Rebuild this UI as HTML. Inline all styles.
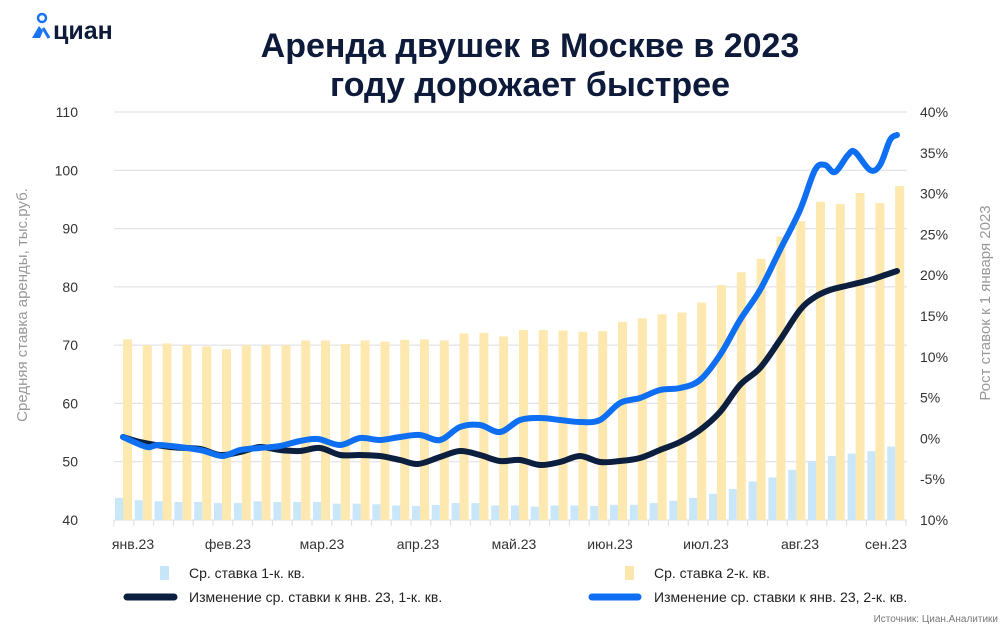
<!DOCTYPE html>
<html><head><meta charset="utf-8"><style>
body{margin:0;background:#fff;width:1000px;height:630px;overflow:hidden;font-family:"Liberation Sans",sans-serif;}
</style></head><body>
<svg id="s" width="1000" height="630" xmlns="http://www.w3.org/2000/svg" font-family="Liberation Sans, sans-serif">
<g>
<circle cx="42" cy="18" r="4" fill="none" stroke="#1a73f0" stroke-width="2.5"/>
<path d="M32 38 L39 26 L43 31 L40 38 Z" fill="#1a73f0"/>
<path d="M43 28 L49 38" stroke="#1a73f0" stroke-width="3"/>
<text x="53" y="39" font-size="25" font-weight="bold" fill="#0d1a3a">циан</text>
</g>
<text x="530" y="57" text-anchor="middle" font-size="34" font-weight="bold" fill="#0d1a3a">Аренда двушек в Москве в 2023</text>
<text x="530" y="96" text-anchor="middle" font-size="34" font-weight="bold" fill="#0d1a3a">году дорожает быстрее</text>
<g id="grid" stroke="#dcdce2" stroke-width="1"></g>
<g id="bars"></g>
<g id="lab" font-size="14" fill="#333"></g>
<text transform="translate(27,305) rotate(-90)" text-anchor="middle" font-size="15" fill="#999">Средняя ставка аренды, тыс.руб.</text>
<text transform="translate(990,303) rotate(-90)" text-anchor="middle" font-size="15" fill="#999">Рост ставок к 1 января 2023</text>
<path id="l1" fill="none" stroke="#0d1f3f" stroke-width="6" stroke-linecap="round" stroke-linejoin="round"/>
<path id="l2" fill="none" stroke="#0f6ff2" stroke-width="6" stroke-linecap="round" stroke-linejoin="round"/>
<rect x="160" y="566" width="9" height="14" fill="#c6e6f8"/>
<text x="189" y="578" font-size="14" fill="#222">Ср. ставка 1-к. кв.</text>
<rect x="625" y="566" width="9" height="14" fill="#fbe6ad"/>
<text x="654" y="578" font-size="14" fill="#222">Ср. ставка 2-к. кв.</text>
<line x1="127" y1="597" x2="174" y2="597" stroke="#0d1f3f" stroke-width="7" stroke-linecap="round"/>
<text x="189" y="602" font-size="14" fill="#222">Изменение ср. ставки к янв. 23, 1-к. кв.</text>
<line x1="592" y1="597" x2="638" y2="597" stroke="#0f6ff2" stroke-width="7" stroke-linecap="round"/>
<text x="654" y="602" font-size="14" fill="#222">Изменение ср. ставки к янв. 23, 2-к. кв.</text>
<text x="998" y="622" text-anchor="end" font-size="10" fill="#777">Источник: Циан.Аналитики</text>
</svg>
<script>
var NS="http://www.w3.org/2000/svg";
function el(p,t,a,txt){var e=document.createElementNS(NS,t);for(var k in a)e.setAttribute(k,a[k]);if(txt)e.textContent=txt;document.getElementById(p).appendChild(e);return e;}
function Y(v){return 520-(v-40)*408/70;}
for(var v=50;v<=110;v+=10){el("grid","line",{x1:114,x2:907,y1:Y(v),y2:Y(v)});}
el("grid","line",{x1:114,x2:907,y1:520,y2:520});
var yel=[71,70,70.3,70,69.8,69.3,70,70,70,70.8,70.8,70.2,70.8,70.6,70.9,71,70.8,72,72.1,71.5,72.6,72.6,72.5,72.3,72.4,74,74.6,75.3,75.6,77.3,80.3,82.5,84.8,88.6,91.3,94.6,94.2,96.1,94.4,97.3];
var blu=[43.8,43.4,43.2,43.1,43.1,42.9,42.9,43.2,43.1,43.1,43.1,42.8,42.8,42.7,42.5,42.4,42.6,42.9,42.9,42.5,42.5,42.3,42.5,42.5,42.4,42.6,42.6,42.9,43.3,43.8,44.5,45.3,46.6,47.3,48.6,50.1,51,51.4,51.8,52.6];
for(var i=0;i<40;i++){
 var x=114+i*19.8;
 el("bars","rect",{x:x+9,y:Y(yel[i]),width:9,height:520-Y(yel[i]),fill:"#fde8b0"});
 el("bars","rect",{x:x+1,y:Y(blu[i]),width:8,height:520-Y(blu[i]),fill:"#c9e7f9"});
 el("grid","line",{x1:x,x2:x,y1:520,y2:526});
}
el("grid","line",{x1:906,x2:906,y1:520,y2:526});
[110,100,90,80,70,60,50,40].forEach(function(a){el("lab","text",{x:78,y:Y(a)+5,"text-anchor":"end"},""+a);});
["40%","35%","30%","25%","20%","15%","10%","5%","0%","-5%","10%"].forEach(function(t,k){el("lab","text",{x:920,y:112+k*40.8+5},t);});
[["янв.23",133],["фев.23",228],["мар.23",322],["апр.23",418],["май.23",514],["июн.23",610],["июл.23",706],["авг.23",800],["сен.23",886]].forEach(function(a){el("lab","text",{x:a[1],y:549,"text-anchor":"middle"},a[0]);});
function smooth(p){var d="M"+p[0][0]+" "+p[0][1];for(var i=0;i<p.length-1;i++){var p0=p[i-1]||p[i],p1=p[i],p2=p[i+1],p3=p[i+2]||p2;
d+=" C"+(p1[0]+(p2[0]-p0[0])/6)+" "+(p1[1]+(p2[1]-p0[1])/6)+" "+(p2[0]-(p3[0]-p1[0])/6)+" "+(p2[1]-(p3[1]-p1[1])/6)+" "+p2[0]+" "+p2[1];}return d;}
var L2=[[123,437],[147,447],[160,445],[200,450],[222,456],[240,450],[260,448],[280,446],[300,441],[318,439],[340,445],[360,438],[380,440],[400,437],[420,435],[440,440],[460,427],[480,425],[500,432],[520,420],[540,418],[560,420],[580,422],[600,420],[620,403],[640,398],[660,390],[680,388],[700,380],[720,355],[740,320],[760,290],[780,250],[800,210],[815,170],[825,165],[835,172],[848,155],[855,152],[870,170],[880,165],[890,140],[897,135]];
var L1=[[123,437],[140,442],[170,447],[200,449],[220,455],[240,452],[260,447],[280,450],[300,451],[320,448],[340,455],[360,455],[380,456],[400,460],[418,464],[440,457],[460,451],[480,455],[500,461],[520,460],[540,465],[560,462],[580,456],[600,462],[620,461],[640,458],[660,450],[680,442],[700,430],[720,412],[740,385],[760,368],[780,340],[800,310],[815,297],[830,290],[850,285],[870,280],[885,275],[897,271]];
document.getElementById("l1").setAttribute("d",smooth(L1));
document.getElementById("l2").setAttribute("d",smooth(L2));
</script>
</body></html>
